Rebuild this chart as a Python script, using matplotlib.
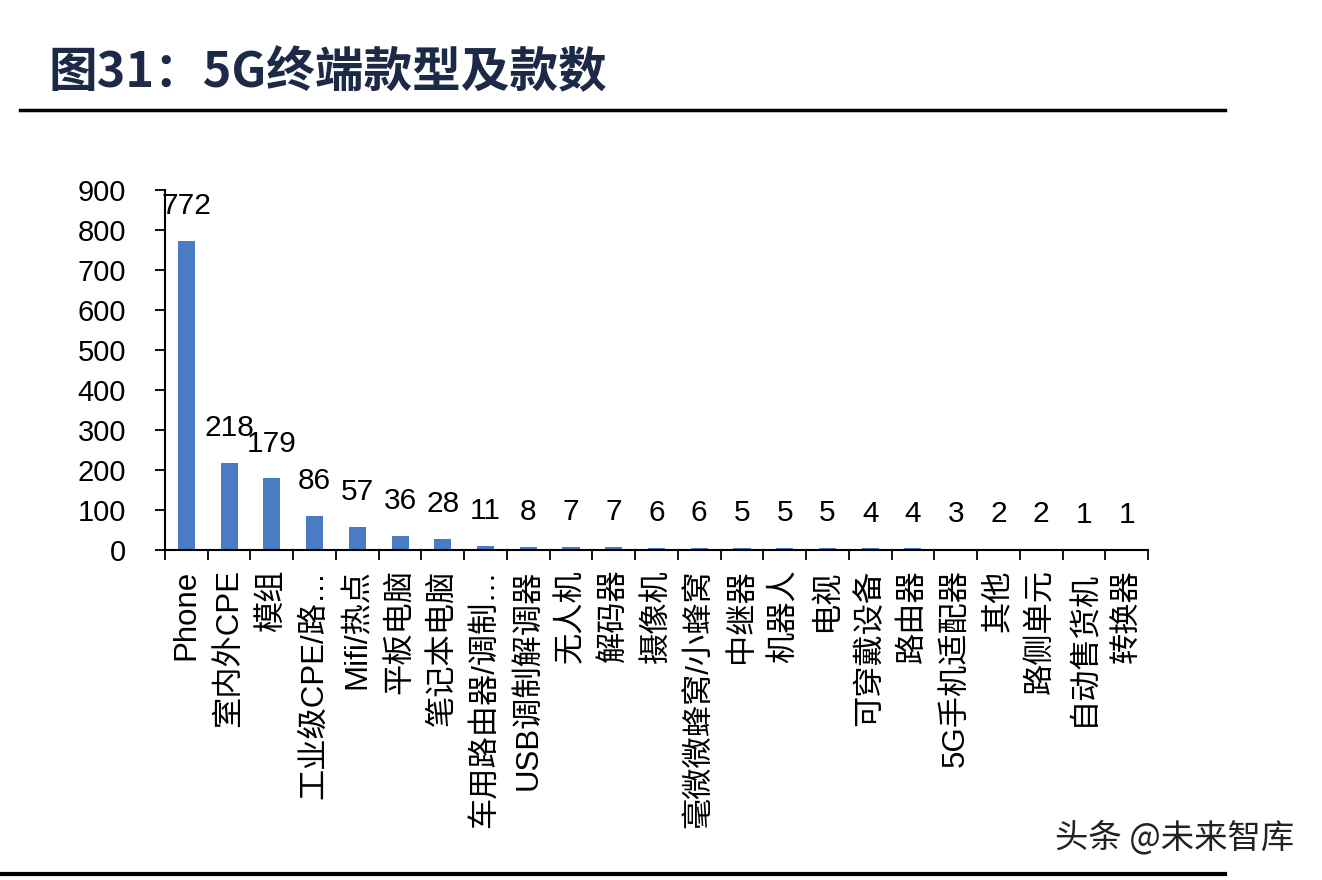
import matplotlib
matplotlib.use("Agg")
import matplotlib.pyplot as plt
from matplotlib.lines import Line2D

plt.rcParams['font.family'] = ['Liberation Sans', 'Noto Sans CJK SC', 'DejaVu Sans']

categories = ["Phone", "室内外CPE", "模组", "工业级CPE/路…", "Mifi/热点", "平板电脑",
              "笔记本电脑", "车用路由器/调制…", "USB调制解调器", "无人机", "解码器", "摄像机",
              "毫微微蜂窝/小蜂窝", "中继器", "机器人", "电视", "可穿戴设备", "路由器",
              "5G手机适配器", "其他", "路侧单元", "自动售货机", "转换器"]
values = [772, 218, 179, 86, 57, 36, 28, 11, 8, 7, 7, 6, 6, 5, 5, 5, 4, 4, 3, 2, 2, 1, 1]
yticks = [0, 100, 200, 300, 400, 500, 600, 700, 800, 900]

fig = plt.figure(figsize=(13.22, 8.8), dpi=100)
ax = fig.add_axes([165/1322, 1-550/880, (1148-165)/1322, 360/880])

x = list(range(len(categories)))
ax.bar(x, values, width=0.4, color='#4a7cc4', zorder=2)
ax.set_xlim(-0.5, len(categories)-0.5)
ax.set_ylim(0, 900)
ax.set_yticks(yticks)
ax.set_yticklabels([str(t) for t in yticks], fontsize=21)
ax.set_xticks(x)
ax.set_xticklabels(categories, rotation=90, fontsize=22.5, va='top', ha='center')
ax.tick_params(axis='x', length=0, pad=14)
ax.set_xticks([i + 0.5 for i in range(-1, len(categories))], minor=True)
ax.tick_params(axis='x', which='minor', length=7, width=1.3, color='black', direction='out')
ax.tick_params(axis='y', length=7, width=1.3, color='black', direction='out', pad=21)
for s in ['top', 'right']:
    ax.spines[s].set_visible(False)
for s in ['left', 'bottom']:
    ax.spines[s].set_color('black')
    ax.spines[s].set_linewidth(1.5)

for xi, v in zip(x, values):
    ax.annotate(str(v), (xi, v), xytext=(0, 15), textcoords='offset points',
                ha='center', va='bottom', fontsize=21.5)

fig.text(48/1322, 1-73/880, "图31：5G终端款型及款数", fontsize=35, fontweight='bold',
         color='#1c2a48', ha='left', va='center',
         family=['Noto Sans CJK SC', 'DejaVu Sans'])
fig.add_artist(Line2D([20/1322, 1225/1322], [1-110/880, 1-110/880], color='black', lw=2.5))
fig.add_artist(Line2D([0, 1225/1322], [1-874/880, 1-874/880], color='black', lw=3))
fig.text(1055/1322, 1-838/880, "头条 @未来智库", fontsize=24, color='#222222',
         ha='left', va='center', family=['Noto Sans CJK SC', 'DejaVu Sans'])

fig.savefig("out.png", dpi=100)
